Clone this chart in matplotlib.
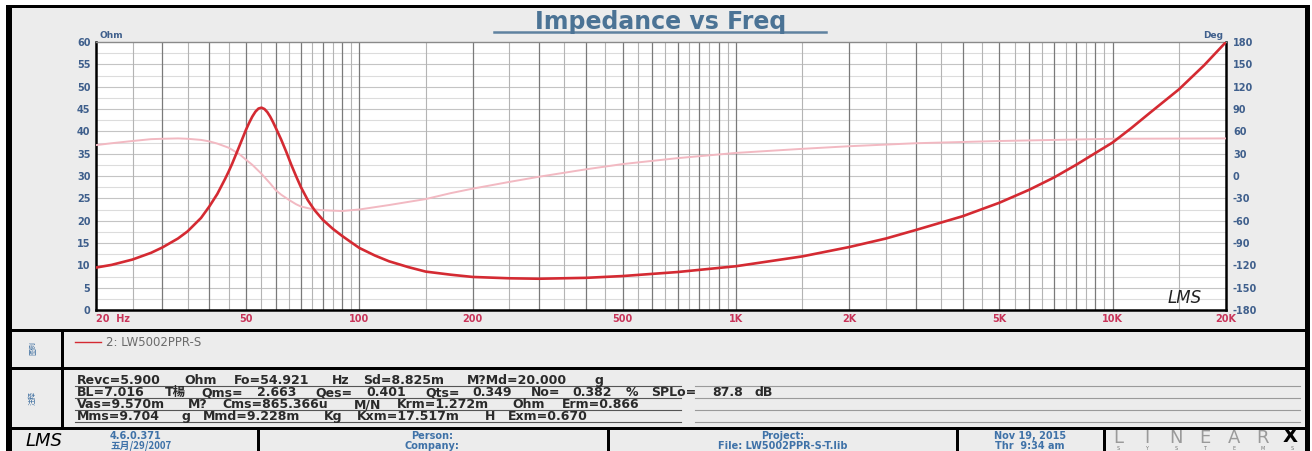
import matplotlib
matplotlib.use('Agg')
import matplotlib.pyplot as plt
from matplotlib.patches import Rectangle
from matplotlib.lines import Line2D
from matplotlib.font_manager import FontProperties

W, H = 1312, 451

# ---------------- data ----------------
freq_imp = [20, 22, 25, 28, 30, 33, 35, 38, 40, 42, 44, 45, 46, 48, 50, 51, 52, 53, 54, 55,
            56, 57, 58, 59, 60, 62, 64, 66, 68, 70, 73, 76, 80, 85, 90, 95, 100, 110, 120,
            135, 150, 175, 200, 250, 300, 400, 500, 700, 1000, 1500, 2000, 2500, 3000,
            4000, 5000, 6000, 7000, 8000, 10000, 11200, 12500, 15000, 17500, 20000]
imp_ohm = [9.5, 10.1, 11.3, 12.8, 14.0, 16.0, 17.6, 20.6, 23.2, 26.0, 29.3, 31.0, 32.8,
           36.6, 40.3, 41.9, 43.3, 44.4, 45.1, 45.3, 45.0, 44.3, 43.3, 42.1, 40.8, 38.2,
           35.4, 32.5, 29.9, 27.5, 24.6, 22.4, 20.2, 18.2, 16.6, 15.2, 13.9, 12.2, 10.9,
           9.6, 8.6, 7.9, 7.4, 7.1, 7.0, 7.2, 7.6, 8.5, 9.8, 12.0, 14.1, 16.0, 17.9, 21.0,
           24.0, 26.9, 29.7, 32.5, 37.5, 40.7, 44.0, 49.4, 54.8, 60.0]

freq_phase = [20, 22, 25, 28, 30, 33, 35, 38, 40, 42, 45, 48, 50, 52, 55, 58, 60, 62, 65,
              68, 70, 75, 80, 90, 100, 120, 150, 175, 200, 250, 300, 400, 500, 700, 1000,
              1500, 2000, 3000, 5000, 10000, 20000]
phase_deg = [41.5, 44.0, 47.0, 49.5, 50.0, 50.5, 50.0, 48.5, 46.5, 43.5, 38.0, 29.5, 22.0,
             15.0, 3.0, -10.0, -19.0, -25.0, -32.0, -38.0, -41.0, -44.5, -46.0, -47.0,
             -45.0, -39.0, -31.0, -23.0, -17.0, -8.0, -1.0, 9.0, 16.0, 24.0, 31.0, 36.5,
             40.0, 44.0, 47.0, 50.0, 50.5]

ohm_ticks = list(range(0, 61, 5))
deg_ticks = list(range(-180, 181, 30))
freq_ticks = [20, 50, 100, 200, 500, 1000, 2000, 5000, 10000, 20000]
freq_labels = ['20  Hz', '50', '100', '200', '500', '1K', '2K', '5K', '10K', '20K']

grid_dark = [30, 40, 50, 60, 70, 80, 90, 100, 200, 300, 400, 500, 600, 700, 800, 900,
             1000, 2000, 3000, 4000, 5000, 6000, 7000, 8000, 9000, 10000]
grid_light = [25, 35, 45, 55, 65, 75, 85, 95, 150, 250, 350, 450, 550, 650, 750, 850, 950,
              1500, 2500, 3500, 4500, 5500, 6500, 7500, 8500, 9500, 15000]

title_text = 'Impedance vs Freq'
legend_text = '2: LW5002PPR-S'
notes_lines = [
    'Revc=5.900 Ohm  Fo=54.921 Hz  Sd=8.825m M?Md=20.000 g',
    'BL=7.016 T楊  Qms= 2.663  Qes= 0.401  Qts= 0.349  No= 0.382 %  SPLo= 87.8 dB',
    'Vas=9.570m M?  Cms=865.366u M/N  Krm=1.272m Ohm  Erm=0.866',
    'Mms=9.704 g  Mmd=9.228m Kg  Kxm=17.517m H  Exm=0.670',
]

# ---------------- helpers ----------------
def fx(x):
    return x / W

def fy(y):
    return 1 - y / H

fig = plt.figure(figsize=(W / 100, H / 100), dpi=100)
fig.patch.set_facecolor('white')

def rect(x0, y0, x1, y1, color, z=0):
    fig.patches.append(Rectangle((fx(x0), fy(y1)), fx(x1) - fx(x0), fy(y0) - fy(y1),
                                 transform=fig.transFigure, facecolor=color,
                                 edgecolor='none', zorder=z))

def hline(x0, x1, y, color, lw=1.0, z=2):
    fig.lines.append(Line2D([fx(x0), fx(x1)], [fy(y), fy(y)], transform=fig.transFigure,
                            color=color, lw=lw, zorder=z))

GRAY = '#ececec'
rect(6, 5, 1310, 451, 'black')
rect(12, 8, 1305, 329, GRAY, 1)
rect(12, 332, 61, 367, GRAY, 1)
rect(64, 332, 1305, 367, GRAY, 1)
rect(12, 370, 61, 427, GRAY, 1)
rect(64, 370, 1305, 427, GRAY, 1)
rect(12, 430, 257, 451, GRAY, 1)
rect(260, 430, 607, 451, GRAY, 1)
rect(610, 430, 956, 451, GRAY, 1)
rect(959, 430, 1103, 451, GRAY, 1)
rect(1106, 430, 1305, 451, GRAY, 1)

# ---------------- main axes ----------------
L, R, T, B = 96, 1226, 42, 310
rect_ax = [fx(L), fy(B), fx(R) - fx(L), fy(T) - fy(B)]
ax = fig.add_axes(rect_ax)
ax.set_facecolor('white')
ax.set_xscale('log')
ax.set_xlim(20, 20000)
ax.set_ylim(0, 60)

for f in grid_light:
    ax.axvline(f, color='#b4b4b4', lw=0.8, zorder=1)
for f in grid_dark:
    ax.axvline(f, color='#7a7a7a', lw=0.9, zorder=1)
for v in ohm_ticks[1:-1]:
    ax.axhline(v, color='#c4c4c4', lw=0.8, zorder=0.9)
for v in [x + 2.5 for x in ohm_ticks[:-1]]:
    ax.axhline(v, color='#dcdcdc', lw=0.8, zorder=0.9)

ax.set_xticks(freq_ticks)
ax.set_xticklabels(freq_labels)
ax.xaxis.set_minor_locator(matplotlib.ticker.NullLocator())
ax.set_yticks(ohm_ticks)
ax.set_yticklabels([str(v) for v in ohm_ticks])
ax.tick_params(axis='both', length=0)
ax.tick_params(axis='x', pad=3, labelsize=7, labelcolor='#c8355a')
ax.tick_params(axis='y', pad=4, labelsize=7, labelcolor='#3f5f8c')
for lab in ax.get_xticklabels() + ax.get_yticklabels():
    lab.set_fontweight('bold')
labs = ax.get_xticklabels()
labs[0].set_horizontalalignment('left')

for s in ['left', 'bottom']:
    ax.spines[s].set_color('black')
    ax.spines[s].set_linewidth(1.8)
ax.spines['top'].set_color('#8a8a8a')
ax.spines['top'].set_linewidth(1.0)
ax.spines['right'].set_color('black')
ax.spines['right'].set_linewidth(1.8)

# phase axis
ax2 = ax.twinx()
ax2.set_ylim(-180, 180)
ax2.patch.set_visible(False)
ax2.plot(freq_phase, phase_deg, color='#f2b9c2', lw=1.4)
ax2.set_yticks(deg_ticks)
ax2.set_yticklabels([str(v) for v in deg_ticks])
ax2.tick_params(axis='y', length=0, pad=5, labelsize=7, labelcolor='#3f5f8c')
for lab in ax2.get_yticklabels():
    lab.set_fontweight('bold')
for s in ax2.spines.values():
    s.set_visible(False)

# impedance axis on top
ax3 = ax.twinx()
ax3.set_ylim(0, 60)
ax3.patch.set_visible(False)
ax3.plot(freq_imp, imp_ohm, color='#d42a32', lw=1.9, solid_capstyle='round')
ax3.set_yticks([])
for s in ax3.spines.values():
    s.set_visible(False)
ax.set_zorder(3)
ax2.set_zorder(4)
ax3.set_zorder(5)

fig.text(fx(99), fy(36), 'Ohm', fontsize=6.5, color='#3f5f8c', fontweight='bold',
         ha='left', va='center', zorder=10)
fig.text(fx(1223), fy(36), 'Deg', fontsize=6.5, color='#3f5f8c', fontweight='bold',
         ha='right', va='center', zorder=10)

fig.text(fx(661), fy(22), title_text, fontsize=17, fontweight='bold', color='#4b7395',
         ha='center', va='center', zorder=10)
hline(494, 826, 31.5, '#5f82a0', lw=1.8, z=10)

fig.text(fx(1185), fy(298), 'LMS', fontsize=12, fontstyle='italic', color='#222222',
         ha='center', va='center', zorder=10)

# ---------------- legend row ----------------
hline(75, 101, 342, '#d42a32', lw=1.0, z=5)
fig.text(fx(106), fy(342), legend_text, fontsize=8.5, color='#6a6a6a', ha='left',
         va='center', zorder=5)
fig.text(fx(33), fy(348), '图例', fontsize=5, color='#3f6fa0', rotation=90,
         ha='center', va='center', family=['Noto Sans CJK SC', 'DejaVu Sans'], zorder=5)

# ---------------- notes ----------------
fig.text(fx(33), fy(398), '注释', fontsize=5, color='#3f6fa0', rotation=90,
         ha='center', va='center', family=['Noto Sans CJK SC', 'DejaVu Sans'], zorder=5)

renderer = fig.canvas.get_renderer()
fp = FontProperties(family=['DejaVu Sans', 'Noto Sans CJK SC'], weight='bold', size=9)

def tw(s):
    if not s:
        return 0.0
    w1 = renderer.get_text_width_height_descent(s + '|', fp, ismath=False)[0]
    w0 = renderer.get_text_width_height_descent('|', fp, ismath=False)[0]
    return w1 - w0

row_base = [384, 396, 408, 420]
row_end = [605, 777, 655, 603]
x_start = 77
for base, end, line in zip(row_base, row_end, notes_lines):
    total = tw(line)
    scale = (end - x_start) / total
    idx = 0
    for word in line.split(' '):
        if word:
            xo = x_start + tw(line[:idx]) * scale
            fig.text(fx(xo), fy(base), word, fontproperties=fp, color='#2a2a2a',
                     ha='left', va='baseline', zorder=5)
        idx += len(word) + 1
    hline(75, 681, base + 1.8, '#555555', lw=0.8, z=5)
    hline(695, 1300, base + 1.8, '#9a9a9a', lw=0.8, z=5)

# ---------------- footer ----------------
BLUE = '#3f72a8'
fig.text(fx(44), fy(441), 'LMS', fontsize=13, fontstyle='italic', color='black',
         ha='center', va='center', zorder=5)
fig.text(fx(110), fy(436), '4.6.0.371', fontsize=7, color=BLUE, ha='left', va='center',
         fontweight='bold', zorder=5)
fig.text(fx(110), fy(446), '五月/29/2007', fontsize=7, color=BLUE, ha='left', va='center',
         fontweight='bold', family=['Noto Sans CJK SC', 'DejaVu Sans'], zorder=5)
fig.text(fx(432), fy(436), 'Person:', fontsize=7, color=BLUE, ha='center', va='center',
         fontweight='bold', zorder=5)
fig.text(fx(432), fy(446), 'Company:', fontsize=7, color=BLUE, ha='center', va='center',
         fontweight='bold', zorder=5)
fig.text(fx(783), fy(436), 'Project:', fontsize=7, color=BLUE, ha='center', va='center',
         fontweight='bold', zorder=5)
fig.text(fx(783), fy(446), 'File: LW5002PPR-S-T.lib', fontsize=7, color=BLUE,
         ha='center', va='center', fontweight='bold', zorder=5)
fig.text(fx(1030), fy(436), 'Nov 19, 2015', fontsize=7, color=BLUE, ha='center',
         va='center', fontweight='bold', zorder=5)
fig.text(fx(1030), fy(446), 'Thr  9:34 am', fontsize=7, color=BLUE, ha='center',
         va='center', fontweight='bold', zorder=5)
for i, ch in enumerate('LINEAR'):
    fig.text(fx(1118 + i * 29), fy(438), ch, fontsize=13, color='#9a9a9a', ha='center',
             va='center', zorder=5)
fig.text(fx(1290), fy(437), 'X', fontsize=14, color='black', fontweight='bold',
         ha='center', va='center', zorder=5)
for i, ch in enumerate('SYSTEMS'):
    fig.text(fx(1118 + i * 29), fy(448), ch, fontsize=3.5, color='#777777', ha='center',
             va='center', zorder=5)

fig.savefig('out.png', dpi=100, facecolor=fig.get_facecolor())
